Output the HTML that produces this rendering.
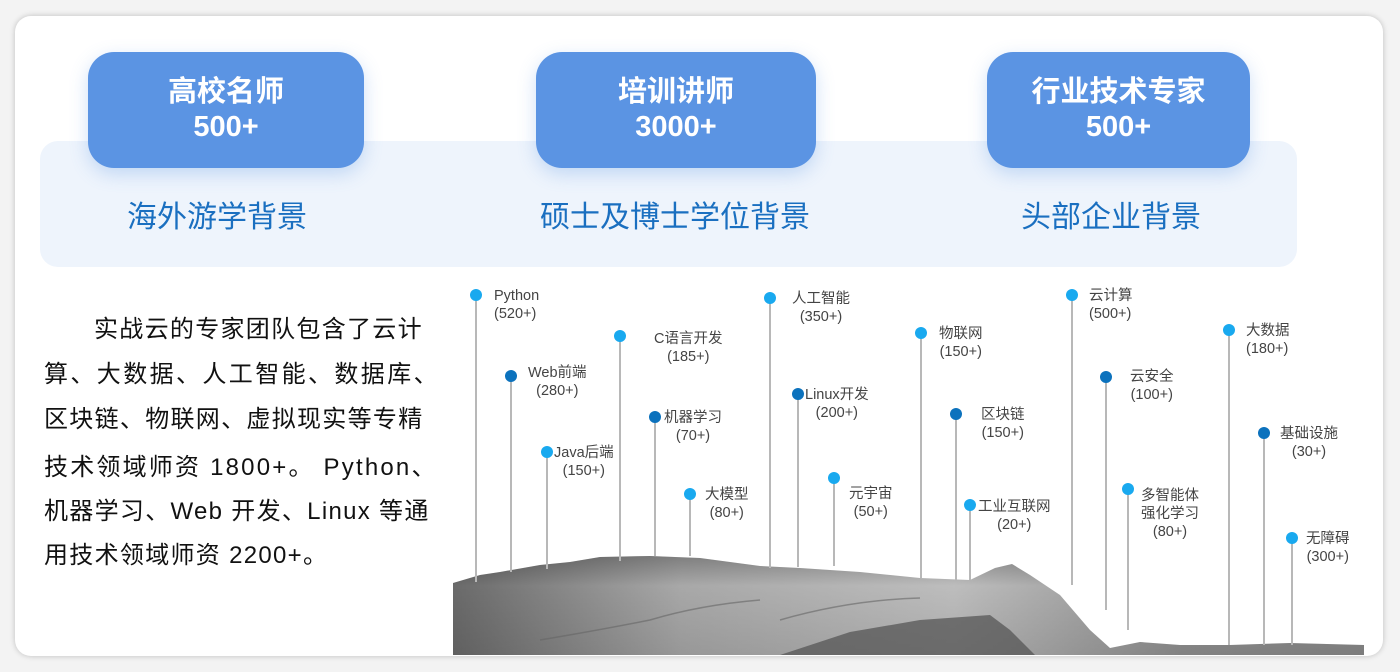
<!DOCTYPE html>
<html><head><meta charset="utf-8">
<style>
*{margin:0;padding:0;box-sizing:border-box}
body{width:1400px;height:672px;background:#f3f3f3;position:relative;overflow:hidden;font-family:"Liberation Sans","Noto Sans CJK SC",sans-serif}
.card{position:absolute;left:15px;top:16px;width:1368px;height:640px;background:#fff;border-radius:16px;box-shadow:0 0 6px rgba(0,0,0,.22);overflow:hidden}
.band{position:absolute;left:40px;top:141px;width:1257px;height:126px;background:#eef4fc;border-radius:18px}
.box{position:absolute;top:52px;height:116px;background:#5b94e3;border-radius:26px;color:#fff;font-weight:bold;font-size:29px;line-height:35px;text-align:center;padding-top:23px;box-shadow:0 6px 18px rgba(91,148,227,.3)}
.sub{position:absolute;top:198px;font-size:30px;color:#1a6fc0;line-height:40px;white-space:nowrap}
.p{position:absolute;left:44px;font-size:24px;color:#111;white-space:nowrap;letter-spacing:1.3px;line-height:30px}
.pin{position:absolute;width:2px;background:#b8b8b8}
.dot{position:absolute;width:12px;height:12px;border-radius:50%;background:#19a9ef}
.dk{background:#0c72bd}
.lb{position:absolute;font-size:14.5px;line-height:18px;color:#444;text-align:center;white-space:nowrap}
</style></head><body>
<div class="card"></div>
<div class="band"></div>
<div class="box" style="left:88px;width:276px">高校名师<br>500+</div>
<div class="box" style="left:536px;width:280px">培训讲师<br>3000+</div>
<div class="box" style="left:987px;width:263px">行业技术专家<br>500+</div>
<div class="sub" style="left:127px">海外游学背景</div>
<div class="sub" style="left:540px">硕士及博士学位背景</div>
<div class="sub" style="left:1021px">头部企业背景</div>

<div class="p" style="top:315px;left:94px">实战云的专家团队包含了云计</div>
<div class="p" style="top:360px;letter-spacing:2.4px">算、大数据、人工智能、数据库、</div>
<div class="p" style="top:405px">区块链、物联网、虚拟现实等专精</div>
<div class="p" style="top:453px;letter-spacing:2.2px">技术领域师资 1800+。 Python、</div>
<div class="p" style="top:497px">机器学习、Web 开发、Linux 等通</div>
<div class="p" style="top:541px">用技术领域师资 2200+。</div>

<svg style="position:absolute;left:0;top:0" width="1400" height="672">
<defs>
<linearGradient id="g2" x1="0" y1="0" x2="1" y2="0"><stop offset="0" stop-color="#6a6a6a"/><stop offset=".25" stop-color="#a8a8a8"/><stop offset=".55" stop-color="#bdbdbd"/><stop offset=".8" stop-color="#909090"/><stop offset="1" stop-color="#8a8a8a"/></linearGradient>
<linearGradient id="g3" x1="0" y1="0" x2="0" y2="1"><stop offset="0" stop-color="#000" stop-opacity=".25"/><stop offset=".3" stop-color="#000" stop-opacity="0"/><stop offset="1" stop-color="#000" stop-opacity=".1"/></linearGradient>
</defs>
<polygon fill="url(#g2)" points="453,583 480,575 500,572 540,565 570,562 600,557 650,556 700,558 760,566 800,568 860,572 920,578 970,580 995,568 1012,564 1030,575 1060,595 1090,630 1110,648 1140,642 1180,645 1230,645 1290,643 1364,645 1364,655 453,655"/>
<polygon fill="url(#g3)" points="453,583 480,575 500,572 540,565 570,562 600,557 650,556 700,558 760,566 800,568 860,572 920,578 970,580 995,568 1012,564 1030,575 1060,595 1090,630 1110,648 1140,642 1180,645 1230,645 1290,643 1364,645 1364,655 453,655"/>
<polygon fill="#555" opacity=".75" points="780,655 850,632 920,620 990,615 1010,630 1035,655"/>
<g stroke="#666" stroke-width="1.5" fill="none" opacity=".6">
<path d="M540,640 Q600,630 650,620 Q700,605 760,600"/>
<path d="M780,620 Q850,600 920,598"/>
</g>
</svg>

<div class="pin" style="left:475px;top:295px;height:287px"></div><div class="dot" style="left:470px;top:289px"></div><div class="lb" style="left:494px;top:287px;text-align:left">Python<br>(520+)</div>
<div class="pin" style="left:510px;top:376px;height:196px"></div><div class="dot dk" style="left:505px;top:370px"></div><div class="lb" style="left:528px;top:364px">Web前端<br>(280+)</div>
<div class="pin" style="left:546px;top:452px;height:117px"></div><div class="dot" style="left:541px;top:446px"></div><div class="lb" style="left:554px;top:444px">Java后端<br>(150+)</div>
<div class="pin" style="left:619px;top:336px;height:225px"></div><div class="dot" style="left:614px;top:330px"></div><div class="lb" style="left:654px;top:330px">C语言开发<br>(185+)</div>
<div class="pin" style="left:654px;top:417px;height:139px"></div><div class="dot dk" style="left:649px;top:411px"></div><div class="lb" style="left:664px;top:409px">机器学习<br>(70+)</div>
<div class="pin" style="left:689px;top:494px;height:62px"></div><div class="dot" style="left:684px;top:488px"></div><div class="lb" style="left:705px;top:486px">大模型<br>(80+)</div>
<div class="pin" style="left:769px;top:298px;height:270px"></div><div class="dot" style="left:764px;top:292px"></div><div class="lb" style="left:792px;top:290px">人工智能<br>(350+)</div>
<div class="pin" style="left:797px;top:394px;height:173px"></div><div class="dot dk" style="left:792px;top:388px"></div><div class="lb" style="left:805px;top:386px">Linux开发<br>(200+)</div>
<div class="pin" style="left:833px;top:478px;height:88px"></div><div class="dot" style="left:828px;top:472px"></div><div class="lb" style="left:849px;top:485px">元宇宙<br>(50+)</div>
<div class="pin" style="left:920px;top:333px;height:245px"></div><div class="dot" style="left:915px;top:327px"></div><div class="lb" style="left:939px;top:325px">物联网<br>(150+)</div>
<div class="pin" style="left:955px;top:414px;height:166px"></div><div class="dot dk" style="left:950px;top:408px"></div><div class="lb" style="left:981px;top:406px">区块链<br>(150+)</div>
<div class="pin" style="left:969px;top:505px;height:75px"></div><div class="dot" style="left:964px;top:499px"></div><div class="lb" style="left:978px;top:498px">工业互联网<br>(20+)</div>
<div class="pin" style="left:1071px;top:295px;height:290px"></div><div class="dot" style="left:1066px;top:289px"></div><div class="lb" style="left:1089px;top:287px;text-align:left">云计算<br>(500+)</div>
<div class="pin" style="left:1105px;top:377px;height:233px"></div><div class="dot dk" style="left:1100px;top:371px"></div><div class="lb" style="left:1130px;top:368px">云安全<br>(100+)</div>
<div class="pin" style="left:1127px;top:489px;height:141px"></div><div class="dot" style="left:1122px;top:483px"></div><div class="lb" style="left:1141px;top:487px">多智能体<br>强化学习<br>(80+)</div>
<div class="pin" style="left:1228px;top:330px;height:315px"></div><div class="dot" style="left:1223px;top:324px"></div><div class="lb" style="left:1246px;top:322px;text-align:left">大数据<br>(180+)</div>
<div class="pin" style="left:1263px;top:433px;height:212px"></div><div class="dot dk" style="left:1258px;top:427px"></div><div class="lb" style="left:1280px;top:425px">基础设施<br>(30+)</div>
<div class="pin" style="left:1291px;top:538px;height:107px"></div><div class="dot" style="left:1286px;top:532px"></div><div class="lb" style="left:1306px;top:530px">无障碍<br>(300+)</div>
</body></html>
